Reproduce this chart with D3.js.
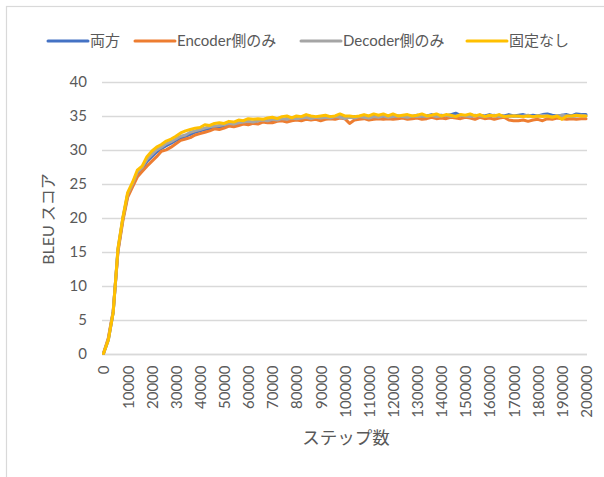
<!DOCTYPE html>
<html>
<head>
<meta charset="utf-8">
<script src="https://cdn.jsdelivr.net/npm/d3@7"></script>
<style>
  html, body { margin: 0; padding: 0; background: #fff; }
  svg { display: block; font-family: Lato, "Noto Sans CJK JP", sans-serif; }
</style>
</head>
<body>
<svg id="chart" width="604" height="477"></svg>
<script>
// Training steps (every 2000 steps)
const steps = d3.range(0, 200001, 2000);

// BLEU scores per setting
const both = [
  0, 2.0, 6.0, 15.2, 19.8, 23.3, 24.9, 26.5, 27.2, 28.3,
  29.0, 29.7, 30.2, 30.6, 31.0, 31.4, 31.7, 32.0, 32.3, 32.6,
  32.8, 33.0, 33.1, 33.4, 33.3, 33.6, 33.7, 33.8, 33.9, 34.0,
  34.1, 34.0, 34.3, 34.2, 34.4, 34.3, 34.5, 34.4, 34.6, 34.5,
  34.7, 34.6, 34.8, 34.6, 34.7, 34.8, 34.7, 34.9, 34.8, 34.9,
  34.7, 34.8, 34.9, 34.7, 34.9, 34.8, 35.0, 34.8, 34.9, 35.0,
  34.9, 35.0, 34.8, 35.0, 34.9, 35.1, 34.9, 35.0, 35.2, 35.0,
  35.1, 35.0, 35.2, 35.4, 35.1, 35.0, 35.2, 35.0, 35.1, 35.0,
  35.2, 35.0, 35.1, 35.0, 35.2, 35.0, 35.1, 35.2, 35.0, 35.1,
  35.0, 35.2, 35.3, 35.1, 35.0, 35.1, 35.2, 35.0, 35.3, 35.2,
  35.2
];
const encoderOnly = [
  0, 2.3, 6.2, 15.0, 19.5, 23.0, 24.5, 26.0, 26.8, 27.6,
  28.3, 29.0, 29.8, 30.0, 30.4, 30.9, 31.4, 31.6, 31.8, 32.2,
  32.4, 32.6, 32.8, 33.1, 33.0, 33.2, 33.5, 33.4, 33.6, 33.8,
  33.7, 33.9, 33.8, 34.1, 34.0, 34.0, 34.2, 34.3, 34.1, 34.3,
  34.4, 34.3, 34.5, 34.4, 34.5, 34.3, 34.5, 34.6, 34.5, 34.7,
  34.6, 33.9, 34.4, 34.5, 34.6, 34.4, 34.5, 34.6, 34.5, 34.6,
  34.5, 34.6, 34.7, 34.5, 34.6, 34.7, 34.5, 34.6, 34.8, 34.6,
  34.7, 34.6, 34.8, 34.7, 34.6, 34.8, 34.7, 34.5, 34.8, 34.6,
  34.7, 34.5, 34.7, 34.8, 34.4, 34.3, 34.3, 34.4, 34.2, 34.4,
  34.5, 34.3, 34.6, 34.5, 34.7, 34.6, 34.5, 34.6, 34.5, 34.6,
  34.6
];
const decoderOnly = [
  0, 2.1, 6.1, 15.4, 19.9, 23.5, 25.0, 26.7, 27.4, 28.6,
  29.3, 30.0, 30.4, 30.9, 31.2, 31.6, 32.0, 32.2, 32.6, 32.8,
  33.0, 33.2, 33.4, 33.5, 33.6, 33.7, 33.9, 33.8, 34.0, 34.1,
  34.2, 34.1, 34.3, 34.4, 34.3, 34.5, 34.4, 34.6, 34.5, 34.7,
  34.6, 34.7, 34.8, 34.6, 34.8, 34.7, 34.8, 34.7, 34.9, 34.8,
  34.6, 34.8, 34.7, 34.9, 34.8, 34.7, 34.9, 34.8, 35.0, 34.8,
  34.9, 35.0, 34.9, 34.8, 35.0, 34.9, 35.0, 34.9, 35.1, 34.9,
  35.0, 35.1, 34.9, 35.0, 35.1, 35.0, 34.9, 35.1, 35.0, 34.9,
  35.0, 35.1, 34.9, 35.0, 34.9, 35.0, 34.9, 35.0, 35.1, 34.9,
  35.0, 35.1, 35.0, 34.9, 35.0, 35.1, 35.0, 34.9, 35.0, 35.1,
  35.0
];
const noFreeze = [
  0, 2.0, 6.0, 15.5, 20.0, 23.7, 25.2, 27.0, 27.6, 29.0,
  29.8, 30.4, 30.8, 31.3, 31.6, 32.0, 32.5, 32.8, 33.0, 33.2,
  33.3, 33.7, 33.6, 33.9, 34.0, 33.9, 34.2, 34.1, 34.4, 34.3,
  34.6, 34.5, 34.6, 34.5, 34.7, 34.8, 34.6, 34.9, 35.0, 34.7,
  35.0, 34.9, 35.2, 35.0, 34.9, 35.0, 35.1, 34.9, 35.0, 35.3,
  35.0, 35.0, 34.9, 35.0, 35.2, 35.0, 35.3, 35.1, 35.3, 35.0,
  35.3, 35.0, 35.1, 35.2, 35.0, 35.1, 35.3, 35.0, 35.1, 35.3,
  35.0, 35.2, 35.1, 34.9, 35.2, 35.1, 35.3, 35.0, 35.2, 34.9,
  35.1, 35.0, 35.2, 34.9, 35.0, 35.0, 35.0, 34.9, 35.0, 34.9,
  35.0, 34.9, 35.0, 34.8, 35.0, 34.5, 35.0, 35.0, 35.1, 35.0,
  35.0
];

const seriesNames = ["両方", "Encoder側のみ", "Decoder側のみ", "固定なし"];
const seriesValues = [both, encoderOnly, decoderOnly, noFreeze];
const seriesColors = ["#4472C4", "#ED7D31", "#A5A5A5", "#FFC000"];

const yTicks = [0, 5, 10, 15, 20, 25, 30, 35, 40];
const xTickSteps = d3.range(0, 200001, 10000);

const xTitle = "ステップ数";
const yTitle = "BLEU スコア";

const textColor = "#595959";
const gridColor = "#D9D9D9";

const svg = d3.select("#chart");

// chart frame
svg.append("rect")
  .attr("x", 6.5).attr("y", 6.5)
  .attr("width", 640).attr("height", 500)
  .attr("fill", "#fff")
  .attr("stroke", gridColor).attr("stroke-width", 1.2);

const plot = { left: 102, right: 587, top: 82, bottom: 353.5 };

const x = d3.scalePoint()
  .domain(steps)
  .range([plot.left + 1.5, plot.right - 1]);

const y = d3.scaleLinear()
  .domain([0, 40])
  .range([plot.bottom, plot.top]);

// horizontal gridlines
svg.append("g")
  .selectAll("line")
  .data(yTicks)
  .join("line")
  .attr("x1", plot.left).attr("x2", plot.right)
  .attr("y1", d => Math.round(y(d)) + 0.5)
  .attr("y2", d => Math.round(y(d)) + 0.5)
  .attr("stroke", gridColor).attr("stroke-width", 1.3);

// y axis labels
const yAxis = svg.append("g")
  .attr("transform", `translate(${plot.left},0)`)
  .call(d3.axisLeft(y).tickValues(yTicks).tickSize(0).tickPadding(15));
yAxis.select(".domain").remove();
yAxis.selectAll("text")
  .attr("fill", textColor)
  .style("font-size", "15px")
  .style("font-family", "Lato, 'Noto Sans CJK JP', sans-serif");

// x axis with rotated step labels
const xAxis = svg.append("g")
  .attr("transform", `translate(0,${Math.round(plot.bottom) + 0.5})`)
  .call(d3.axisBottom(x).tickValues(xTickSteps).tickSize(0).tickPadding(0));
xAxis.select(".domain")
  .attr("d", `M${plot.left},0H${plot.right}`)
  .attr("stroke", gridColor).attr("stroke-width", 1.3);
xAxis.selectAll("text")
  .attr("fill", textColor)
  .style("font-size", "15px")
  .style("font-family", "Lato, 'Noto Sans CJK JP', sans-serif")
  .attr("text-anchor", "end")
  .attr("transform", "translate(0,11) rotate(-90)")
  .attr("x", 0).attr("y", 0)
  .attr("dy", "0.36em");

// series lines
const line = d3.line()
  .x((d, i) => x(steps[i]))
  .y(d => y(d));

svg.append("g")
  .selectAll("path")
  .data(seriesValues)
  .join("path")
  .attr("d", d => line(d))
  .attr("fill", "none")
  .attr("stroke", (d, i) => seriesColors[i])
  .attr("stroke-width", 3)
  .attr("stroke-linejoin", "round")
  .attr("stroke-linecap", "round");

// axis titles
svg.append("text")
  .attr("x", 346).attr("y", 444)
  .attr("text-anchor", "middle")
  .attr("fill", textColor)
  .style("font-size", "17.5px")
  .text(xTitle);

svg.append("text")
  .attr("transform", "translate(54,219) rotate(-90)")
  .attr("text-anchor", "middle")
  .attr("fill", textColor)
  .style("font-size", "16px")
  .text(yTitle);

// legend
const legendX = [48, 135, 301, 467];
const legend = svg.append("g");
seriesNames.forEach((name, i) => {
  const g = legend.append("g").attr("transform", `translate(${legendX[i]},41)`);
  g.append("line")
    .attr("x1", 0).attr("x2", 40)
    .attr("y1", 0).attr("y2", 0)
    .attr("stroke", seriesColors[i]).attr("stroke-width", 3)
    .attr("stroke-linecap", "round");
  g.append("text")
    .attr("x", 42).attr("y", 0).attr("dy", "0.36em")
    .attr("fill", textColor)
    .style("font-size", "15px")
    .text(name);
});
</script>
</body>
</html>
